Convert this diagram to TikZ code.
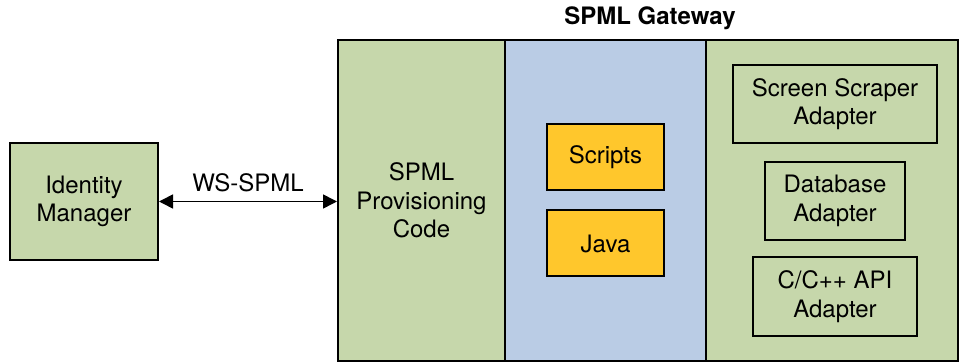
\documentclass[tikz,border=0pt]{standalone}
\usepackage{fontspec}
\setmainfont{TeX Gyre Heros}
\usetikzlibrary{arrows.meta}
\definecolor{gwgreen}{HTML}{C6D7AB}
\definecolor{gwblue}{HTML}{BACCE5}
\definecolor{gwyellow}{HTML}{FFC72C}
\begin{document}
\begin{tikzpicture}[x=0.5pt,y=-0.5pt,
    every node/.style={font=\fontsize{12}{14.3}\selectfont, align=center},
    box/.style={draw, line width=1pt, inner sep=0pt},
    panel/.style={box, minimum height=160.5pt},
    link/.style={{Triangle[length=7pt,width=7pt]}-{Triangle[length=7pt,width=7pt]}, line width=0.8pt}]
      \useasboundingbox (0,0) rectangle (960,362);
      % gateway panels
      \node[panel, fill=gwgreen, minimum width=83.5pt] (prov) at (421.5,200.5) {SPML\\Provisioning\\Code};
      \node[panel, fill=gwblue, minimum width=100.5pt] (lang) at (605.5,200.5) {};
      \node[panel, fill=gwgreen, minimum width=126pt] (adapt) at (832,200.5) {};
      \node[font=\bfseries\fontsize{12}{14.3}\selectfont] (title) at (650,18) {SPML Gateway};
      % inner boxes
      \node[box, fill=gwyellow, minimum width=58.5pt, minimum height=33pt] (scripts) at (605.5,157.5) {Scripts};
      \node[box, fill=gwyellow, minimum width=58.5pt, minimum height=33pt] (java) at (605.5,243.5) {Java};
      \node[box, minimum width=102pt, minimum height=39pt] (scraper) at (835,104) {Screen Scraper\\Adapter};
      \node[box, minimum width=70pt, minimum height=39pt] (db) at (835,201) {Database\\Adapter};
      \node[box, minimum width=82pt, minimum height=39.5pt] (capi) at (835,296.5) {C/C++ API\\Adapter};
      % client
      \node[box, fill=gwgreen, minimum width=74pt, minimum height=58.5pt] (im) at (84,201.5) {Identity\\Manager};
      \draw[link] (im.east) -- (im.east -| prov.west)
        node[midway, above=1pt] (ws) {WS-SPML};
    \end{tikzpicture}
\end{document}
